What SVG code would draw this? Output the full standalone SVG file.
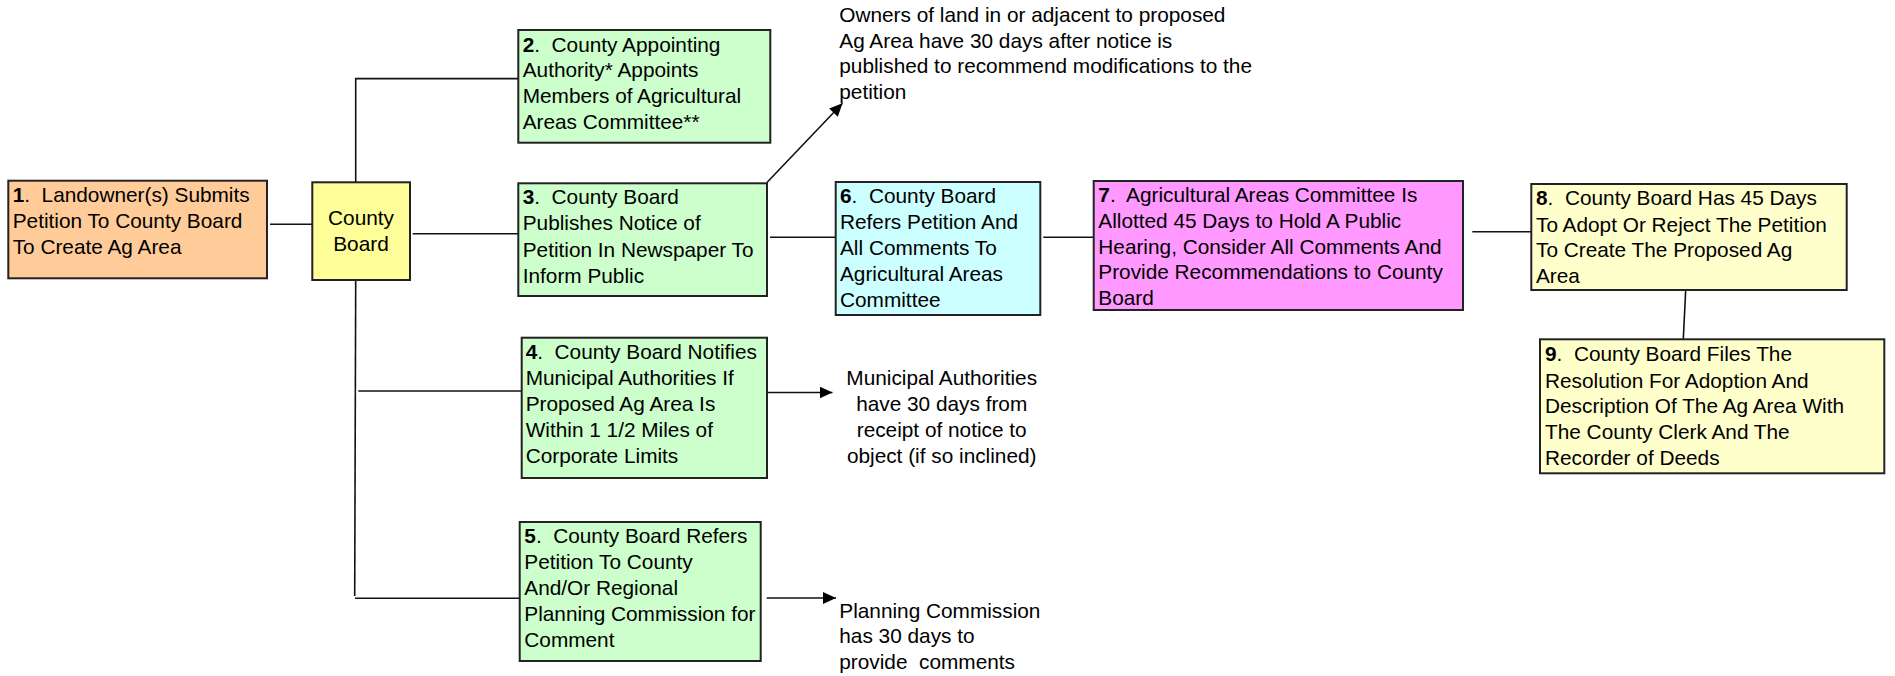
<svg xmlns="http://www.w3.org/2000/svg" width="1895" height="676" viewBox="0 0 1895 676">
<style>
text{font-family:"Liberation Sans",Arial,sans-serif;font-size:20.8px;fill:#000}
.b{font-weight:bold}
.box{stroke:#222;stroke-width:2}
.c{stroke:#111;stroke-width:1.6;fill:none}
.mid{text-anchor:middle}
</style>
<defs>
<marker id="ah" markerUnits="userSpaceOnUse" markerWidth="14" markerHeight="12" refX="13" refY="6" orient="auto">
<path d="M0,0 L13,6 L0,12 z" fill="#000"/>
</marker>
</defs>
<rect width="1895" height="676" fill="#fff"/>
<g id="connectors">
<line class="c" x1="270" y1="224.3" x2="316.7" y2="224.3"/>
<polyline class="c" points="520,78.6 355.7,78.6 355.7,182.5"/>
<line class="c" x1="412.7" y1="233.7" x2="520" y2="233.7"/>
<line class="c" x1="355.7" y1="280" x2="354.7" y2="596"/>
<line class="c" x1="358.3" y1="391" x2="521.7" y2="391"/>
<line class="c" x1="355" y1="598.3" x2="520" y2="598.3"/>
<line class="c" x1="767.5" y1="392.5" x2="832.5" y2="392.5" marker-end="url(#ah)"/>
<line class="c" x1="766.7" y1="598" x2="836" y2="598" marker-end="url(#ah)"/>
<line class="c" x1="766.7" y1="182.7" x2="842.5" y2="103.3" marker-end="url(#ah)"/>
<line class="c" x1="770" y1="237.3" x2="837.7" y2="237.3"/>
<line class="c" x1="1043.3" y1="237.3" x2="1097.7" y2="237.3"/>
<line class="c" x1="1472.3" y1="231.7" x2="1531.3" y2="231.7"/>
<line class="c" x1="1685.7" y1="290" x2="1683.3" y2="339"/>
</g>
<g id="node1">
<rect class="box" x="8.3" y="180.7" width="258.7" height="97.6" fill="#FFCC99"/>
<text x="12.7" y="202" xml:space="preserve"><tspan class="b">1</tspan>.  Landowner(s) Submits</text>
<text x="12.7" y="228">Petition To County Board</text>
<text x="12.7" y="253.5">To Create Ag Area</text>
</g>
<g id="countyboard">
<rect class="box" x="312.3" y="182.3" width="97.7" height="97.7" fill="#FFFF99"/>
<text class="mid" x="361" y="225">County</text>
<text class="mid" x="361" y="251">Board</text>
</g>
<g id="node2">
<rect class="box" x="518.3" y="30" width="252" height="112.7" fill="#CCFFCC"/>
<text x="522.7" y="51.7" xml:space="preserve"><tspan class="b">2</tspan>.  County Appointing</text>
<text x="522.7" y="77.3">Authority* Appoints</text>
<text x="522.7" y="103.3">Members of Agricultural</text>
<text x="522.7" y="128.7">Areas Committee**</text>
</g>
<g id="node3">
<rect class="box" x="518.3" y="183.3" width="248.7" height="112.7" fill="#CCFFCC"/>
<text x="522.7" y="204" xml:space="preserve"><tspan class="b">3</tspan>.  County Board</text>
<text x="522.7" y="230">Publishes Notice of</text>
<text x="522.7" y="256.5">Petition In Newspaper To</text>
<text x="522.7" y="282.5">Inform Public</text>
</g>
<g id="node4">
<rect class="box" x="521.7" y="337.7" width="245.3" height="140.3" fill="#CCFFCC"/>
<text x="525.7" y="359" xml:space="preserve"><tspan class="b">4</tspan>.  County Board Notifies</text>
<text x="525.7" y="385">Municipal Authorities If</text>
<text x="525.7" y="410.7">Proposed Ag Area Is</text>
<text x="525.7" y="436.7">Within 1 1/2 Miles of</text>
<text x="525.7" y="462.7">Corporate Limits</text>
</g>
<g id="node5">
<rect class="box" x="519.7" y="522" width="241" height="139" fill="#CCFFCC"/>
<text x="524.3" y="543.3" xml:space="preserve"><tspan class="b">5</tspan>.  County Board Refers</text>
<text x="524.3" y="569.3">Petition To County</text>
<text x="524.3" y="595.3">And/Or Regional</text>
<text x="524.3" y="621.3">Planning Commission for</text>
<text x="524.3" y="647.3">Comment</text>
</g>
<g id="node6">
<rect class="box" x="835.7" y="182" width="204.6" height="133" fill="#CCFFFF"/>
<text x="840" y="202.5" xml:space="preserve"><tspan class="b">6</tspan>.  County Board</text>
<text x="840" y="229">Refers Petition And</text>
<text x="840" y="255.3">All Comments To</text>
<text x="840" y="281">Agricultural Areas</text>
<text x="840" y="307">Committee</text>
</g>
<g id="node7">
<rect class="box" x="1093.7" y="181" width="369.3" height="129" fill="#FF99FF"/>
<text x="1098.3" y="201.7" xml:space="preserve"><tspan class="b">7</tspan>.  Agricultural Areas Committee Is</text>
<text x="1098.3" y="227.7">Allotted 45 Days to Hold A Public</text>
<text x="1098.3" y="254">Hearing, Consider All Comments And</text>
<text x="1098.3" y="279.3">Provide Recommendations to County</text>
<text x="1098.3" y="305.3">Board</text>
</g>
<g id="node8">
<rect class="box" x="1531.3" y="184" width="315.4" height="106" fill="#FFFFCC"/>
<text x="1536" y="205" xml:space="preserve"><tspan class="b">8</tspan>.  County Board Has 45 Days</text>
<text x="1536" y="231.7">To Adopt Or Reject The Petition</text>
<text x="1536" y="257.3">To Create The Proposed Ag</text>
<text x="1536" y="283.3">Area</text>
</g>
<g id="node9">
<rect class="box" x="1540" y="339.3" width="344.3" height="134" fill="#FFFFCC"/>
<text x="1545" y="361" xml:space="preserve"><tspan class="b">9</tspan>.  County Board Files The</text>
<text x="1545" y="387.7">Resolution For Adoption And</text>
<text x="1545" y="413.3">Description Of The Ag Area With</text>
<text x="1545" y="439.3">The County Clerk And The</text>
<text x="1545" y="465">Recorder of Deeds</text>
</g>
<g id="note-owners">
<text x="839.3" y="22">Owners of land in or adjacent to proposed</text>
<text x="839.3" y="47.7">Ag Area have 30 days after notice is</text>
<text x="839.3" y="73.3">published to recommend modifications to the</text>
<text x="839.3" y="99.3">petition</text>
</g>
<g id="note-municipal">
<text class="mid" x="941.7" y="385">Municipal Authorities</text>
<text class="mid" x="941.7" y="410.7">have 30 days from</text>
<text class="mid" x="941.7" y="436.7">receipt of notice to</text>
<text class="mid" x="941.7" y="462.7">object (if so inclined)</text>
</g>
<g id="note-planning">
<text x="839.3" y="617.7">Planning Commission</text>
<text x="839.3" y="643.3">has 30 days to</text>
<text x="839.3" y="669.3" xml:space="preserve">provide  comments</text>
</g>
</svg>
